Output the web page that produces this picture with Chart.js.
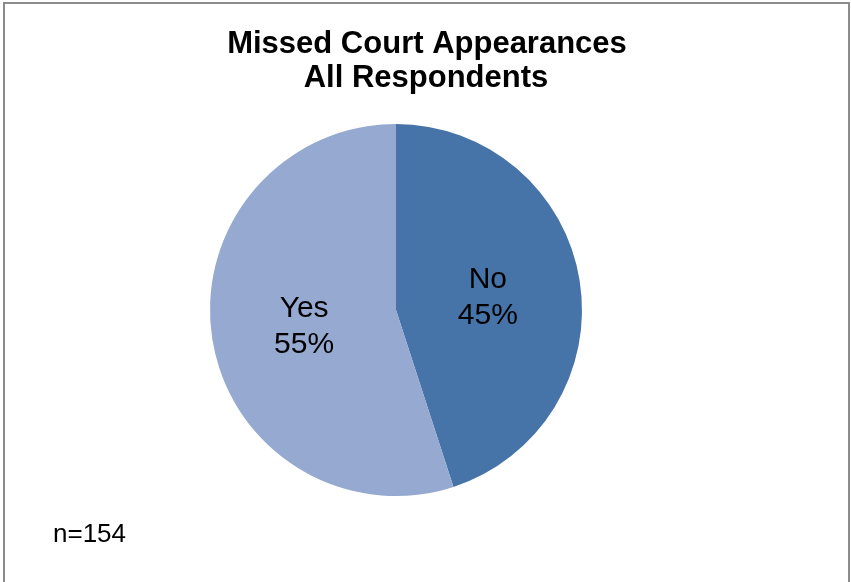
<!DOCTYPE html>
<html>
<head>
<meta charset="utf-8">
<script src="https://cdn.jsdelivr.net/npm/chart.js@4.4.1/dist/chart.umd.min.js"></script>
<style>
  html, body { margin: 0; padding: 0; background: #fff; overflow: hidden; }
  #wrap { position: relative; width: 851px; height: 582px; overflow: hidden; }
  #frame {
    position: absolute; left: 3px; top: 2px; width: 843px; height: 620px;
    border: 2px solid #8c8c8c; box-sizing: content-box;
  }
  canvas { position: absolute; left: 0; top: 0; }
</style>
</head>
<body>
<div id="wrap">
  <div id="frame"></div>
  <canvas id="chartMissed" width="851" height="582"></canvas>
</div>
<script>
const categories = ['No', 'Yes'];
const shares = [45, 55];
const titleLines = ['Missed Court Appearances', 'All Respondents'];
const sampleNote = 'n=154';

const sliceColors = ['#4673a8', '#95a9d1'];
const fontFamily = '"Liberation Sans", Arial, sans-serif';

// titles, in-slice labels and the sample size note
const textPlugin = {
  id: 'pieText',
  afterDatasetsDraw(chart) {
    const ctx = chart.ctx;
    ctx.save();
    ctx.fillStyle = '#000';
    ctx.textAlign = 'center';
    ctx.textBaseline = 'alphabetic';

    ctx.font = 'bold 31px ' + fontFamily;
    ctx.fillText(titleLines[0], 427, 53);
    ctx.fillText(titleLines[1], 426, 87);

    ctx.font = '30px ' + fontFamily;
    const meta = chart.getDatasetMeta(0);
    meta.data.forEach((arc, i) => {
      const p = arc.getProps(['x', 'y', 'startAngle', 'endAngle', 'outerRadius'], true);
      const mid = (p.startAngle + p.endAngle) / 2;
      const cx = p.x + Math.cos(mid) * p.outerRadius * 0.5;
      const cy = p.y + Math.sin(mid) * p.outerRadius * 0.5;
      ctx.fillText(categories[i], cx, cy - 7.5);
      ctx.fillText(shares[i] + '%', cx, cy + 28.5);
    });

    ctx.textAlign = 'left';
    ctx.font = '26px ' + fontFamily;
    ctx.fillText(sampleNote, 53, 542);
    ctx.restore();
  }
};

new Chart(document.getElementById('chartMissed'), {
  type: 'pie',
  data: {
    labels: categories,
    datasets: [{
      data: shares,
      backgroundColor: sliceColors,
      borderWidth: 0
    }]
  },
  options: {
    responsive: false,
    animation: false,
    layout: { padding: { left: 200, right: 259, top: 124, bottom: 86 } },
    plugins: {
      legend: { display: false },
      tooltip: { enabled: false },
      title: { display: false }
    }
  },
  plugins: [textPlugin]
});
</script>
</body>
</html>
